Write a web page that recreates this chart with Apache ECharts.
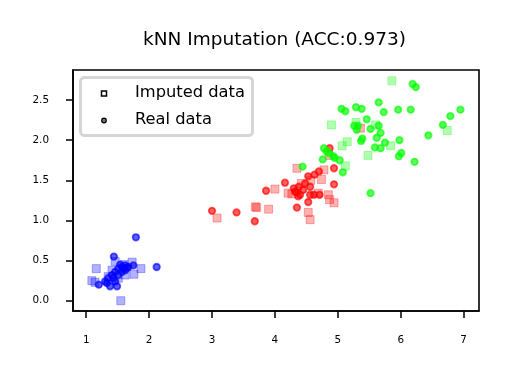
<!DOCTYPE html>
<html>
<head>
<meta charset="utf-8">
<script src="https://cdn.jsdelivr.net/npm/echarts@6/dist/echarts.min.js"></script>
<style>html,body{margin:0;padding:0;background:#fff}#c{width:509px;height:378px}</style>
</head>
<body>
<div id="c"></div>
<script>
var titleText = 'kNN Imputation (ACC:0.973)';
var legendNames = ['Imputed data', 'Real data'];
var xTicks = [1, 2, 3, 4, 5, 6, 7];
var yTicks = [0.0, 0.5, 1.0, 1.5, 2.0, 2.5];

var setosaImputed = [[1.16,0.40],[1.09,0.25],[1.55,0.00],[1.73,0.48],[1.87,0.40],[1.76,0.33],[1.46,0.49],[1.41,0.38],[1.62,0.32],[1.14,0.23],[1.51,0.28],[1.35,0.30],[1.60,0.45]];
var setosaReal = [[1.79,0.79],[1.44,0.55],[2.12,0.42],[1.20,0.20],[1.38,0.18],[1.49,0.18],[1.30,0.24],[1.35,0.28],[1.41,0.32],[1.46,0.36],[1.51,0.40],[1.57,0.42],[1.62,0.44],[1.67,0.42],[1.75,0.44],[1.43,0.28],[1.51,0.32],[1.57,0.36],[1.62,0.38],[1.46,0.24],[1.33,0.22],[1.59,0.40],[1.54,0.45],[1.65,0.41]];

var versicolorImputed = [[4.35,1.65],[4.78,1.63],[4.74,1.51],[4.57,1.50],[4.00,1.39],[4.21,1.34],[4.27,1.33],[4.69,1.34],[4.85,1.32],[4.87,1.26],[4.94,1.22],[3.90,1.14],[3.71,1.16],[4.53,1.10],[4.56,1.01],[4.86,1.81],[3.08,1.03],[3.69,1.17],[5.36,2.15],[4.42,1.46]];
var versicolorReal = [[3.00,1.12],[3.39,1.10],[3.68,0.99],[3.86,1.37],[4.16,1.47],[4.34,1.35],[4.35,1.16],[4.53,1.55],[4.48,1.46],[4.70,1.61],[4.94,1.65],[4.94,1.45],[4.53,1.23],[4.71,1.32],[4.87,1.90],[4.40,1.32],[4.56,1.32],[4.62,1.32],[4.32,1.36],[4.56,1.42],[4.37,1.30],[4.45,1.38],[4.30,1.40],[4.38,1.42],[4.63,1.57]];

var virginicaImputed = [[5.86,2.74],[4.90,2.19],[5.29,2.22],[5.60,2.19],[5.15,1.98],[5.07,1.93],[5.48,1.81],[5.84,1.93],[6.74,2.12],[5.12,1.68]];
var virginicaReal = [[6.19,2.70],[6.24,2.66],[5.65,2.47],[5.06,2.39],[5.12,2.36],[5.29,2.41],[5.38,2.39],[5.73,2.35],[5.96,2.38],[6.16,2.38],[6.95,2.38],[6.79,2.30],[6.67,2.19],[5.46,2.26],[5.26,2.18],[5.30,2.13],[5.52,2.14],[5.65,2.18],[5.68,2.09],[5.62,2.03],[5.39,2.02],[5.37,1.99],[5.98,2.00],[6.44,2.06],[5.75,1.97],[5.59,1.91],[5.68,1.90],[6.01,1.84],[5.97,1.80],[6.22,1.73],[4.78,1.90],[4.86,1.84],[4.93,1.80],[5.03,1.75],[4.76,1.76],[5.08,1.60],[4.44,1.67],[5.52,1.34],[4.82,1.86],[4.95,1.78],[5.32,2.18]];

function sq(name, data, rgb) {
  return {
    type: 'scatter', name: name, data: data, symbol: 'rect', symbolSize: 8,
    itemStyle: { color: 'rgba(' + rgb + ',0.3)', borderColor: 'rgba(' + rgb + ',0.3)', borderWidth: 1, opacity: 1 },
    emphasis: { disabled: true }, silent: true, z: 2
  };
}
function ci(name, data, rgb) {
  return {
    type: 'scatter', name: name, data: data, symbol: 'circle', symbolSize: 6.5,
    itemStyle: { color: 'rgba(' + rgb + ',0.63)', borderColor: 'rgba(' + rgb + ',0.63)', borderWidth: 1.8, opacity: 1 },
    emphasis: { disabled: true }, silent: true, z: 3
  };
}

var chart = echarts.init(document.getElementById('c'), null, { renderer: 'canvas' });
var FONT = 'DejaVu Sans';
chart.setOption({
  animation: false,
  backgroundColor: '#fff',
  title: {
    text: titleText, left: 143, top: 31, padding: 0,
    textStyle: { fontFamily: FONT, fontSize: 18.5, fontWeight: 'normal', color: '#000' }
  },
  grid: { left: 73, right: 30, top: 70, bottom: 67, containLabel: false, show: true, borderColor: '#000', borderWidth: 1.6, backgroundColor: 'transparent' },
  xAxis: {
    type: 'value', min: 0.79, max: 7.245, splitLine: { show: false },
    axisLine: { show: true, onZero: false, lineStyle: { color: '#000', width: 1.6 } },
    axisTick: { show: true, length: 7, lineStyle: { color: '#000', width: 1.5 }, customValues: xTicks },
    axisLabel: { customValues: xTicks, margin: 24, fontFamily: FONT, fontSize: 10.4, color: '#000', formatter: function (v) { return String(v); } }
  },
  yAxis: {
    type: 'value', min: -0.128, max: 2.874, splitLine: { show: false },
    axisLine: { show: true, onZero: false, lineStyle: { color: '#000', width: 1.6 } },
    axisTick: { show: true, length: 7, lineStyle: { color: '#000', width: 1.5 }, customValues: yTicks },
    axisLabel: { customValues: yTicks, margin: 24, fontFamily: FONT, fontSize: 10.4, color: '#000', formatter: function (v) { return v.toFixed(1); } }
  },
  series: [
    sq(legendNames[0], setosaImputed, '0,0,255'),
    sq(legendNames[0], versicolorImputed, '255,0,0'),
    sq(legendNames[0], virginicaImputed, '0,255,0'),
    ci(legendNames[1], setosaReal, '0,0,255'),
    ci(legendNames[1], versicolorReal, '255,0,0'),
    ci(legendNames[1], virginicaReal, '0,255,0')
  ],
  graphic: [
    { type: 'rect', shape: { x: 80.5, y: 77.5, width: 172, height: 58, r: 4 }, style: { fill: '#fff', stroke: '#d6d6d6', lineWidth: 3 }, z: 100 },
    { type: 'rect', shape: { x: 101.5, y: 91, width: 5, height: 5 }, style: { fill: '#fff', stroke: '#000', lineWidth: 1.5 }, z: 101 },
    { type: 'circle', shape: { cx: 104, cy: 120.5, r: 2.3 }, style: { fill: '#777', stroke: '#000', lineWidth: 1.2 }, z: 101 },
    { type: 'text', x: 135, y: 93, style: { text: legendNames[0], font: '16.3px "DejaVu Sans"', fill: '#000', verticalAlign: 'middle' }, z: 101 },
    { type: 'text', x: 135, y: 119.5, style: { text: legendNames[1], font: '16.3px "DejaVu Sans"', fill: '#000', verticalAlign: 'middle' }, z: 101 }
  ]
});
</script>
</body>
</html>
